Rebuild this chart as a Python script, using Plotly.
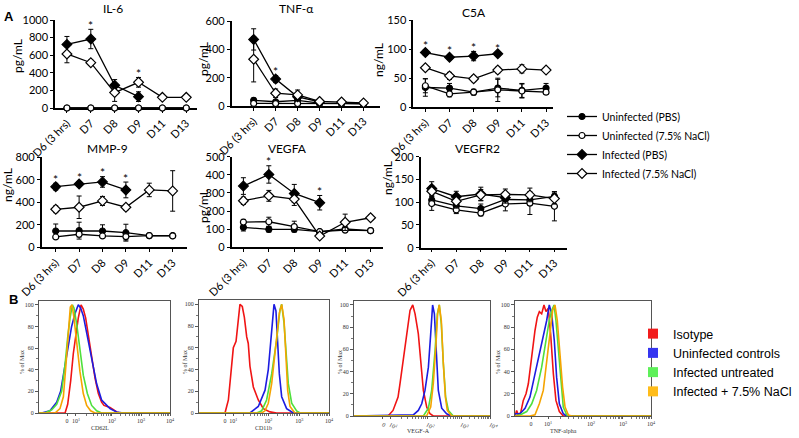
import math
import plotly.graph_objects as go

W, H = 799, 438

# ---------------- Panel A data ----------------
days = ["D6 (3 hrs)", "D7", "D8", "D9", "D11", "D13"]
group_names = ["Uninfected (PBS)", "Uninfected (7.5% NaCl)", "Infected (PBS)", "Infected (7.5% NaCl)"]

il6_un_pbs = [0, 0, 0, 0, 0, 0]
il6_un_pbs_err = [0, 0, 0, 0, 0, 0]
il6_un_nacl = [0, 0, 0, 0, 0, 0]
il6_un_nacl_err = [0, 0, 0, 0, 0, 0]
il6_inf_pbs = [723, 784, 258, 129]
il6_inf_pbs_err = [90, 110, 65, 55]
il6_inf_nacl = [614, 515, 175, 292, 121, 121]
il6_inf_nacl_err = [100, 30, 100, 55, 5, 5]

tnf_un_pbs = [40, 30, 40, 20, 18, 16]
tnf_un_pbs_err = [15, 10, 12, 5, 5, 5]
tnf_un_nacl = [18, 17, 17, 17, 17, 17]
tnf_un_nacl_err = [5, 4, 4, 4, 4, 4]
tnf_inf_pbs = [470, 190, 65, 30]
tnf_inf_pbs_err = [75, 25, 20, 8]
tnf_inf_nacl = [330, 90, 78, 32, 28, 22]
tnf_inf_nacl_err = [160, 30, 35, 8, 5, 5]

c5a_un_pbs = [34, 33, 26, 33, 29, 33]
c5a_un_pbs_err = [15, 8, 5, 15, 12, 8]
c5a_un_nacl = [37, 23, 26, 30, 28, 26]
c5a_un_nacl_err = [12, 5, 4, 20, 12, 4]
c5a_inf_pbs = [94, 86, 88, 92]
c5a_inf_pbs_err = [5, 4, 8, 3]
c5a_inf_nacl = [68, 54, 49, 64, 66, 64]
c5a_inf_nacl_err = [3, 6, 5, 5, 7, 4]

mmp9_un_pbs = [145, 148, 145, 130, 104, 104]
mmp9_un_pbs_err = [62, 75, 55, 75, 8, 8]
mmp9_un_nacl = [92, 116, 101, 95, 104, 101]
mmp9_un_nacl_err = [10, 25, 15, 30, 8, 8]
mmp9_inf_pbs = [539, 563, 581, 510]
mmp9_inf_pbs_err = [30, 20, 47, 70]
mmp9_inf_nacl = [338, 356, 412, 356, 510, 501]
mmp9_inf_nacl_err = [30, 100, 40, 25, 60, 180]

vegfa_un_pbs = [110, 99, 99, 86, 101, 92]
vegfa_un_pbs_err = [20, 15, 10, 8, 10, 10]
vegfa_un_nacl = [139, 141, 114, 86, 95, 92]
vegfa_un_nacl_err = [15, 25, 30, 8, 8, 8]
vegfa_inf_pbs = [338, 402, 297, 246]
vegfa_inf_pbs_err = [46, 48, 50, 40]
vegfa_inf_nacl = [257, 284, 266, 62, 138, 163]
vegfa_inf_nacl_err = [20, 30, 35, 8, 45, 15]

vegfr2_un_pbs = [105, 92, 86, 106, 105, 113]
vegfr2_un_pbs_err = [12, 10, 10, 12, 12, 10]
vegfr2_un_nacl = [97, 83, 76, 96, 98, 91]
vegfr2_un_nacl_err = [15, 8, 6, 15, 25, 32]
vegfr2_inf_pbs = [130, 112, 118, 110]
vegfr2_inf_pbs_err = [15, 12, 15, 12]
vegfr2_inf_nacl = [124, 102, 116, 117, 116, 108]
vegfr2_inf_nacl_err = [12, 15, 12, 12, 15, 12]

# ---------------- Panel B data (histograms, channel scale 0-1000) ----------------
flow_names = ["Isotype", "Uninfected controls", "Infected untreated", "Infected + 7.5% NaCl"]
tick_text = ["0", "10<sup>1</sup>", "10<sup>2</sup>", "10<sup>3</sup>", "10<sup>4</sup>"]

cd62l_ticks = [214, 282, 557, 779, 1000]
cd62l_x_iso = [0, 199, 219, 242, 262, 282, 300, 321, 338, 356, 377, 402, 428, 453, 478, 496, 517, 542, 568, 593, 618, 1000]
cd62l_y_iso = [0, 0, 8, 30, 55, 75, 88, 100, 96, 88, 72, 50, 32, 18, 10, 7, 6, 5, 3, 1, 0, 0]
cd62l_x_unin = [0, 20, 84, 135, 165, 186, 204, 224, 249, 275, 300, 318, 338, 364, 402, 440, 478, 542, 593, 644, 1000]
cd62l_y_unin = [0, 0, 2, 10, 20, 35, 45, 62, 80, 92, 100, 97, 90, 74, 52, 27, 12, 4, 1, 0, 0]
cd62l_x_inf = [0, 46, 97, 135, 173, 199, 219, 237, 255, 267, 288, 313, 338, 369, 402, 440, 478, 1000]
cd62l_y_inf = [0, 0, 3, 8, 20, 45, 70, 88, 100, 97, 82, 58, 35, 18, 7, 2, 0, 0]
cd62l_x_nacl = [0, 122, 160, 186, 206, 224, 239, 252, 267, 288, 313, 338, 364, 394, 428, 1000]
cd62l_y_nacl = [0, 0, 4, 15, 45, 78, 98, 100, 88, 65, 38, 18, 7, 2, 0, 0]

cd11b_ticks = [200, 264, 533, 772, 1000]
cd11b_x_iso = [0, 200, 226, 251, 264, 285, 300, 315, 333, 349, 367, 379, 392, 418, 456, 495, 546, 597, 1000]
cd11b_y_iso = [0, 0, 12, 40, 60, 66, 82, 100, 98, 88, 70, 64, 43, 24, 12, 4, 1, 0, 0]
cd11b_x_unin = [0, 392, 456, 508, 533, 559, 577, 592, 605, 618, 636, 674, 726, 1000]
cd11b_y_unin = [0, 0, 6, 21, 40, 74, 100, 94, 67, 36, 15, 4, 0, 0]
cd11b_x_inf = [0, 444, 482, 520, 559, 597, 623, 636, 654, 669, 687, 713, 751, 777, 1000]
cd11b_y_inf = [0, 0, 2, 12, 36, 67, 95, 100, 83, 58, 27, 9, 2, 0, 0]
cd11b_x_nacl = [0, 482, 508, 533, 559, 592, 618, 636, 654, 669, 682, 700, 738, 1000]
cd11b_y_nacl = [0, 0, 2, 9, 27, 67, 92, 100, 86, 52, 21, 6, 0, 0]

vegf_ticks = [213, 265, 537, 787, 1000]
vegf_x_iso = [0, 250, 287, 324, 338, 363, 388, 412, 432, 449, 473, 490, 510, 535, 559, 583, 1000]
vegf_y_iso = [0, 0, 5, 17, 29, 53, 77, 95, 100, 92, 74, 47, 23, 8, 2, 0, 0]
vegf_x_unin = [0, 436, 473, 498, 522, 547, 564, 578, 591, 603, 620, 645, 681, 718, 1000]
vegf_y_unin = [0, 1, 5, 11, 23, 44, 74, 100, 92, 59, 23, 7, 2, 0, 0]
vegf_x_inf = [0, 510, 547, 571, 596, 613, 627, 642, 657, 674, 694, 730, 1000]
vegf_y_inf = [0, 0, 7, 23, 59, 92, 100, 83, 47, 17, 5, 0, 0]
vegf_x_nacl = [0, 534, 564, 583, 603, 615, 627, 642, 657, 672, 686, 718, 1000]
vegf_y_nacl = [0, 0, 8, 29, 65, 92, 100, 86, 47, 17, 5, 0, 0]

tnfa_ticks = [118, 243, 559, 794, 1000]
tnfa_x_iso = [0, 12, 24, 42, 61, 81, 98, 115, 130, 147, 164, 179, 196, 213, 228, 245, 262, 282, 301, 326, 355, 1000]
tnfa_y_iso = [0, 5, 1, 3, 14, 20, 29, 47, 62, 77, 89, 94, 92, 100, 94, 97, 74, 38, 14, 4, 0, 0]
tnfa_x_unin = [0, 37, 74, 110, 147, 184, 208, 233, 252, 270, 289, 306, 326, 355, 380, 1000]
tnfa_y_unin = [2, 2, 7, 17, 38, 59, 74, 86, 100, 92, 68, 35, 11, 2, 0, 0]
tnfa_x_inf = [0, 37, 86, 123, 159, 196, 228, 252, 270, 287, 301, 319, 336, 355, 380, 405, 1000]
tnfa_y_inf = [0, 1, 4, 11, 23, 44, 68, 86, 95, 100, 86, 59, 29, 8, 1, 0, 0]
tnfa_x_nacl = [0, 110, 147, 179, 208, 233, 257, 277, 294, 311, 331, 350, 368, 392, 417, 1000]
tnfa_y_nacl = [0, 0, 1, 11, 23, 47, 74, 95, 100, 86, 56, 26, 8, 1, 0, 0]

# ---------------- helpers ----------------
def fx(p):
    return p / W

def fy(p):
    return 1 - p / H

FONT = "Lato"
SERIF = "Liberation Serif"

group_style = [
    dict(symbol="circle", fill="black", size=6),
    dict(symbol="circle", fill="white", size=6),
    dict(symbol="diamond", fill="black", size=7.5),
    dict(symbol="diamond", fill="white", size=7.5),
]

cyto_panels = [
    dict(title="IL-6", unit="pg/mL", ymax=1000, dtick=200, stars=["D7", "D9"],
         series=[(il6_un_pbs, il6_un_pbs_err), (il6_un_nacl, il6_un_nacl_err),
                 (il6_inf_pbs, il6_inf_pbs_err), (il6_inf_nacl, il6_inf_nacl_err)],
         box=(55, 197, 20, 108), xr=(-0.5, 5.45), tpos=(113, 8), upos=(17, 56)),
    dict(title="TNF-α", unit="pg/mL", ymax=600, dtick=200, stars=["D7"],
         series=[(tnf_un_pbs, tnf_un_pbs_err), (tnf_un_nacl, tnf_un_nacl_err),
                 (tnf_inf_pbs, tnf_inf_pbs_err), (tnf_inf_nacl, tnf_inf_nacl_err)],
         box=(231.7, 380, 21, 106), xr=(-1.0, 5.75), tpos=(296, 8), upos=(203, 59)),
    dict(title="C5A", unit="ng/mL", ymax=150, dtick=50, stars=["D6 (3 hrs)", "D7", "D8", "D9"],
         series=[(c5a_un_pbs, c5a_un_pbs_err), (c5a_un_nacl, c5a_un_nacl_err),
                 (c5a_inf_pbs, c5a_inf_pbs_err), (c5a_inf_nacl, c5a_inf_nacl_err)],
         box=(413.3, 553.3, 20, 107.3), xr=(-0.5, 5.3), tpos=(474, 12), upos=(378, 60)),
    dict(title="MMP-9", unit="ng/mL", ymax=800, dtick=200, stars=["D6 (3 hrs)", "D7", "D8", "D9"],
         series=[(mmp9_un_pbs, mmp9_un_pbs_err), (mmp9_un_nacl, mmp9_un_nacl_err),
                 (mmp9_inf_pbs, mmp9_inf_pbs_err), (mmp9_inf_nacl, mmp9_inf_nacl_err)],
         box=(41.7, 186.7, 157.3, 247.3), xr=(-0.6, 5.6), tpos=(107, 148), upos=(7, 185)),
    dict(title="VEGFA", unit="pg/mL", ymax=500, dtick=100, stars=["D7", "D9"],
         series=[(vegfa_un_pbs, vegfa_un_pbs_err), (vegfa_un_nacl, vegfa_un_nacl_err),
                 (vegfa_inf_pbs, vegfa_inf_pbs_err), (vegfa_inf_nacl, vegfa_inf_nacl_err)],
         box=(231.7, 383.3, 156.7, 247.3), xr=(-0.46, 5.5), tpos=(287, 148), upos=(203, 206)),
    dict(title="VEGFR2", unit="ng/mL", ymax=200, dtick=50, stars=[],
         series=[(vegfr2_un_pbs, vegfr2_un_pbs_err), (vegfr2_un_nacl, vegfr2_un_nacl_err),
                 (vegfr2_inf_pbs, vegfr2_inf_pbs_err), (vegfr2_inf_nacl, vegfr2_inf_nacl_err)],
         box=(420.7, 566.7, 156.7, 247.7), xr=(-0.45, 5.5), tpos=(478, 148), upos=(388, 178)),
]

flow_colors = ["#f01414", "#1c1ce0", "#4ee03c", "#f5a400"]
flow_legend_colors = ["#f21c1c", "#3535f0", "#5ef05a", "#ffbc1a"]

flow_panels = [
    dict(label="CD62L", ticks=cd62l_ticks,
         curves=[(cd62l_x_iso, cd62l_y_iso), (cd62l_x_unin, cd62l_y_unin),
                 (cd62l_x_inf, cd62l_y_inf), (cd62l_x_nacl, cd62l_y_nacl)],
         box=(39, 170, 300.5, 413), lpos=(100, 428), ypos=(22, 362)),
    dict(label="CD11b", ticks=cd11b_ticks,
         curves=[(cd11b_x_iso, cd11b_y_iso), (cd11b_x_unin, cd11b_y_unin),
                 (cd11b_x_inf, cd11b_y_inf), (cd11b_x_nacl, cd11b_y_nacl)],
         box=(199, 329, 300, 413), lpos=(263, 428), ypos=(185, 362)),
    dict(label="VEGF-A", ticks=vegf_ticks,
         curves=[(vegf_x_iso, vegf_y_iso), (vegf_x_unin, vegf_y_unin),
                 (vegf_x_inf, vegf_y_inf), (vegf_x_nacl, vegf_y_nacl)],
         box=(354, 490, 300.5, 416), lpos=(418, 431), ypos=(340, 362)),
    dict(label="TNF-alpha", ticks=tnfa_ticks,
         curves=[(tnfa_x_iso, tnfa_y_iso), (tnfa_x_unin, tnfa_y_unin),
                 (tnfa_x_inf, tnfa_y_inf), (tnfa_x_nacl, tnfa_y_nacl)],
         box=(515, 651, 300.5, 416), lpos=(563, 431), ypos=(498, 362)),
]

fig = go.Figure()
layout = dict(
    template="none",
    width=W, height=H, margin=dict(l=0, r=0, t=0, b=0, autoexpand=False),
    paper_bgcolor="white", plot_bgcolor="white",
    font=dict(family=FONT, color="black"),
    hovermode=False,
)
annotations = []


def label(text, x, y, size, family=FONT, color="black", angle=0):
    return dict(text=text, x=fx(x), y=fy(y), xref="paper", yref="paper", showarrow=False,
                xanchor="center", yanchor="middle", textangle=angle,
                font=dict(family=family, size=size, color=color))


# ---------------- Panel A ----------------
for i, p in enumerate(cyto_panels, start=1):
    x0, x1, y0, y1 = p["box"]
    xa, ya = f"x{i}", f"y{i}"
    for k, ((m, e), st, name) in enumerate(zip(p["series"], group_style, group_names)):
        fig.add_trace(go.Scatter(
            x=days[:len(m)], y=m,
            error_y=dict(type="data", array=e, color="black", thickness=1, width=2.5),
            mode="lines+markers",
            line=dict(color="black", width=1.3),
            marker=dict(symbol=st["symbol"], size=st["size"], color=st["fill"],
                        line=dict(color="black", width=1.2)),
            name=name, legendgroup=name, showlegend=(i == 1), legend="legend",
            xaxis=xa, yaxis=ya, cliponaxis=False,
        ))
    layout[f"xaxis{i}"] = dict(
        domain=[fx(x0), fx(x1)], anchor=ya, type="category", automargin=False,
        categoryorder="array", categoryarray=days, range=list(p["xr"]),
        showline=True, linecolor="black", linewidth=1.5, ticks="outside", ticklen=3,
        tickcolor="black", tickangle=-45, tickfont=dict(family=FONT, size=11),
        showgrid=False, zeroline=False, layer="below traces",
    )
    layout[f"yaxis{i}"] = dict(
        domain=[fy(y1), fy(y0)], anchor=xa, range=[0, p["ymax"]], dtick=p["dtick"],
        automargin=False,
        showline=True, linecolor="black", linewidth=1.5, ticks="outside", ticklen=3,
        tickcolor="black", tickfont=dict(family=FONT, size=11),
        showgrid=False, zeroline=False,
    )
    annotations.append(label(p["title"], p["tpos"][0], p["tpos"][1], 12))
    annotations.append(label(p["unit"], p["upos"][0], p["upos"][1], 12, angle=-90))
    for d in p["stars"]:
        idx = days.index(d)
        top = max(m[idx] + e[idx] for m, e in p["series"] if idx < len(m))
        annotations.append(dict(text="*", x=d, y=top, xref=xa, yref=ya, showarrow=False,
                                xanchor="center", yanchor="middle", yshift=4,
                                font=dict(family=FONT, size=12)))

# ---------------- Panel B ----------------
for j, p in enumerate(flow_panels, start=7):
    x0, x1, y0, y1 = p["box"]
    xa, ya = f"x{j}", f"y{j}"
    for (cx, cy), col in zip(p["curves"], flow_colors):
        fig.add_trace(go.Scatter(x=cx, y=cy, mode="lines", line=dict(color=col, width=1.6),
                                 showlegend=False, xaxis=xa, yaxis=ya))
    t = p["ticks"]
    minor = []
    for d in range(1, 4):
        for k in range(2, 10):
            minor.append(t[d] + math.log10(k) * (t[d + 1] - t[d]))
    layout[f"xaxis{j}"] = dict(
        domain=[fx(x0), fx(x1)], anchor=ya, range=[0, 1000], automargin=False,
        tickmode="array", tickvals=t, ticktext=tick_text,
        tickfont=dict(family=SERIF, size=6, color="#333"),
        showline=True, mirror=True, linecolor="#555", linewidth=1,
        ticks="outside", ticklen=2, tickcolor="#555",
        minor=dict(tickmode="array", tickvals=minor, ticks="outside", ticklen=1.5, tickcolor="#777"),
        showgrid=False, zeroline=False,
    )
    layout[f"yaxis{j}"] = dict(
        domain=[fy(y1), fy(y0)], anchor=xa, range=[0, 104], automargin=False,
        tickmode="array", tickvals=[0, 20, 40, 60, 80, 100],
        tickfont=dict(family=SERIF, size=6, color="#333"),
        showline=True, mirror=True, linecolor="#555", linewidth=1,
        ticks="outside", ticklen=3, tickcolor="#555",
        minor=dict(dtick=10, ticks="outside", ticklen=2, tickcolor="#777"),
        showgrid=False, zeroline=False,
    )
    annotations.append(label(p["label"], p["lpos"][0], p["lpos"][1], 6, SERIF, "#333"))
    annotations.append(label("% of Max", p["ypos"][0], p["ypos"][1], 6, SERIF, "#333", angle=-90))

for name, col in zip(flow_names, flow_legend_colors):
    fig.add_trace(go.Scatter(x=[None], y=[None], mode="markers",
                             marker=dict(symbol="square", size=10, color=col),
                             name=name, legend="legend2", xaxis="x7", yaxis="y7"))

annotations.append(label("<b>A</b>", 9, 16, 13, "Liberation Sans"))
annotations.append(label("<b>B</b>", 13, 299, 13, "Liberation Sans"))

layout["annotations"] = annotations
layout["legend"] = dict(x=fx(562), y=fy(102), xanchor="left", yanchor="top",
                        font=dict(family=FONT, size=10.5), bgcolor="rgba(0,0,0,0)",
                        itemwidth=30, tracegroupgap=0, traceorder="normal")
layout["legend2"] = dict(x=fx(633), y=fy(319), xanchor="left", yanchor="top",
                         font=dict(family="Liberation Sans", size=12.5), bgcolor="rgba(0,0,0,0)",
                         itemwidth=30, traceorder="normal")
fig.update_layout(**layout)
fig.write_html("out.html", config={"displayModeBar": False},
               post_script="document.body.style.margin='0';document.body.style.padding='0';"
                           "document.body.style.overflow='hidden';")
